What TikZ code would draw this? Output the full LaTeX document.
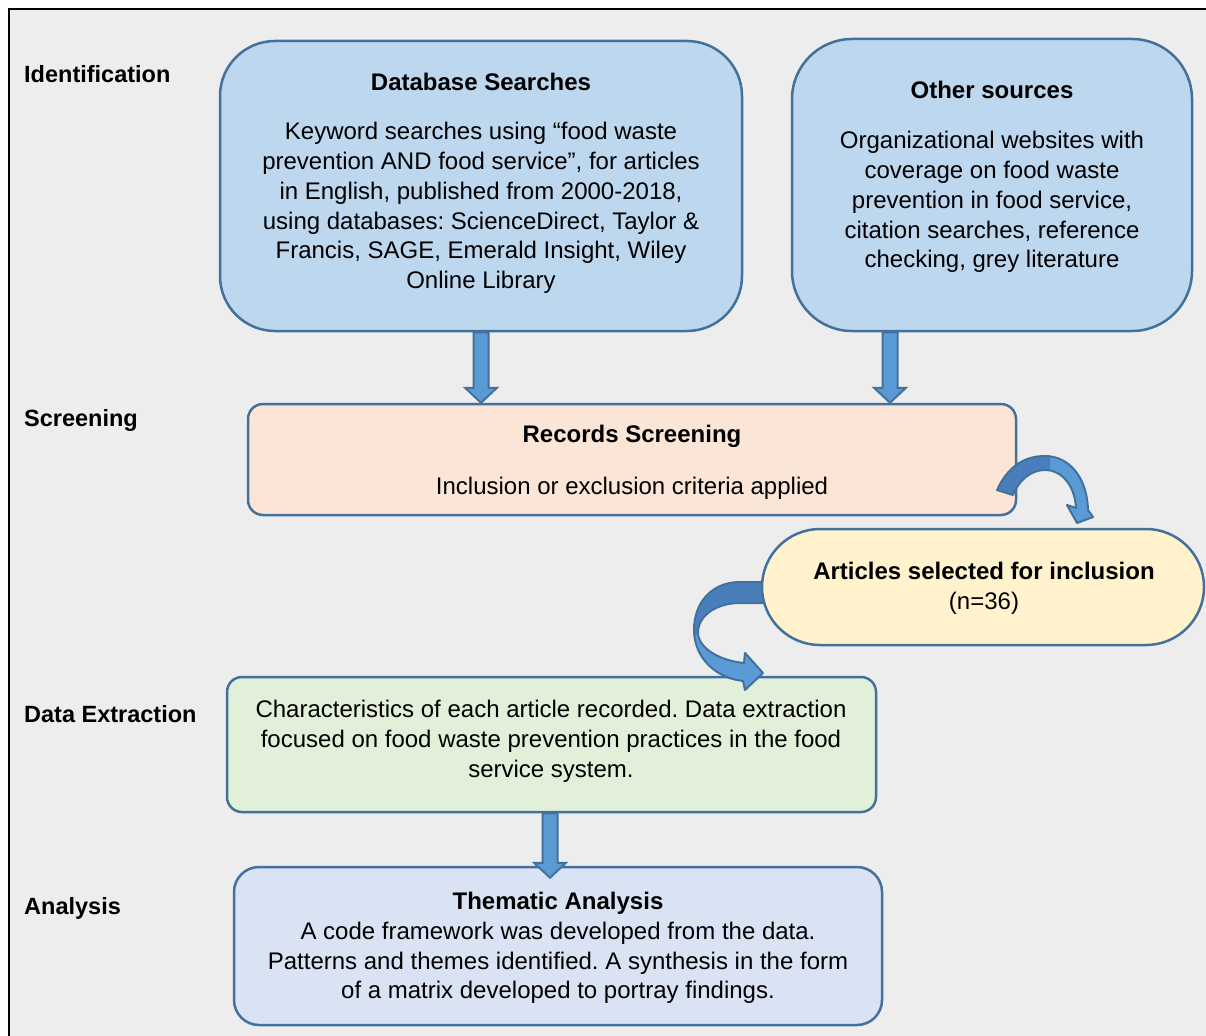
\documentclass[tikz,border=0pt]{standalone}
\usepackage{fontspec}
\setmainfont{Liberation Sans}
\usetikzlibrary{calc}
\frenchspacing
\definecolor{bg}{HTML}{EDEDED}
\definecolor{edge}{HTML}{41719C}
\definecolor{dbfill}{HTML}{BDD7EE}
\definecolor{scrfill}{HTML}{FBE5D6}
\definecolor{artfill}{HTML}{FFF2CC}
\definecolor{extfill}{HTML}{E2F0D9}
\definecolor{thmfill}{HTML}{DAE3F3}
\definecolor{arrlight}{HTML}{5B9BD5}
\definecolor{arrdark}{HTML}{4A7EBB}
\newcommand\blkarrow[2]{\filldraw[blockarrow] let \p1=(#1), \p2=(#2) in
  (\x1-7.5pt,\y1) -- (\x1-7.5pt,\y2+15pt) -- (\x1-16pt,\y2+15pt) -- (\x1,\y2) --
  (\x1+16pt,\y2+15pt) -- (\x1+7.5pt,\y2+15pt) -- (\x1+7.5pt,\y1) -- cycle;}
\begin{document}
\begin{tikzpicture}[x=1pt,y=-1pt,
  every node/.style={font=\fontsize{24}{29.8}\selectfont\frenchspacing, inner sep=0pt},
  box/.style={draw=edge, line width=2.5pt, inner sep=0pt},
  stage/.style={anchor=west, font=\fontsize{23.5}{29.8}\selectfont\bfseries},
  bold/.style={font=\fontsize{24}{29.8}\selectfont\bfseries},
  body/.style={align=center},
  blockarrow/.style={fill=arrlight, draw=edge, line width=2pt, line join=miter},
  curvedge/.style={draw=edge, line width=2pt, line join=round}]
\useasboundingbox (0,0) rectangle (1206,1035);
\clip (0,0) rectangle (1206,1035);
\fill[white] (0,0) rectangle (1206,1035);
\draw[black, line width=2.6pt, fill=bg] (9,9) rectangle (1230,1060);

% boxes
\node[box, fill=dbfill, rounded corners=55pt, minimum width=522pt, minimum height=290pt] (db) at (481,186) {};
\node[box, fill=dbfill, rounded corners=60pt, minimum width=400pt, minimum height=292pt] (os) at (992,185) {};
\node[box, fill=scrfill, rounded corners=15pt, minimum width=768pt, minimum height=111pt] (scr) at (632,459.5) {};
\node[box, fill=extfill, rounded corners=15pt, minimum width=649pt, minimum height=135pt] (ext) at (551.5,744.5) {};
\node[box, fill=thmfill, rounded corners=25pt, minimum width=648pt, minimum height=158pt] (thm) at (558,946) {};

% curved arrow from articles to extraction
\fill[arrlight] (775,582) -- (738,582) .. controls (712,583) and (694,602) .. (694,630) .. controls (694,657) and (715,678) .. (743,681) -- (745,690) -- (763,673) -- (745,653) -- (744,663) .. controls (722,661) and (700,650) .. (698,634) .. controls (697,617) and (715,603) .. (740,603) -- (775,603) -- cycle;
\begin{scope}
\clip (680,570) rectangle (780,634);
\fill[arrdark] (775,582) -- (738,582) .. controls (712,583) and (694,602) .. (694,630) .. controls (694,657) and (715,678) .. (743,681) -- (745,690) -- (763,673) -- (745,653) -- (744,663) .. controls (722,661) and (700,650) .. (698,634) .. controls (697,617) and (715,603) .. (740,603) -- (775,603) -- cycle;
\end{scope}
\draw[curvedge] (775,582) -- (738,582) .. controls (712,583) and (694,602) .. (694,630) .. controls (694,657) and (715,678) .. (743,681) -- (745,690) -- (763,673) -- (745,653) -- (744,663) .. controls (722,661) and (700,650) .. (698,634) .. controls (697,617) and (715,603) .. (740,603) -- (775,603) -- cycle;

\node[box, fill=artfill, rounded corners=58pt, minimum width=442pt, minimum height=116pt] (art) at (983,587) {};

% curved arrow from screening to articles
\fill[arrlight] (997,490) .. controls (1008,466) and (1025,456) .. (1045,456) .. controls (1068,456) and (1087,476) .. (1088,510) -- (1093,517) -- (1077,523) -- (1067,505) -- (1076,508) .. controls (1075,486) and (1062,470) .. (1045,470) .. controls (1031,470) and (1019,480) .. (1013,495) -- cycle;
\begin{scope}
\clip (990,440) rectangle (1050,520);
\fill[arrdark] (997,490) .. controls (1008,466) and (1025,456) .. (1045,456) .. controls (1068,456) and (1087,476) .. (1088,510) -- (1093,517) -- (1077,523) -- (1067,505) -- (1076,508) .. controls (1075,486) and (1062,470) .. (1045,470) .. controls (1031,470) and (1019,480) .. (1013,495) -- cycle;
\end{scope}
\draw[curvedge] (997,490) .. controls (1008,466) and (1025,456) .. (1045,456) .. controls (1068,456) and (1087,476) .. (1088,510) -- (1093,517) -- (1077,523) -- (1067,505) -- (1076,508) .. controls (1075,486) and (1062,470) .. (1045,470) .. controls (1031,470) and (1019,480) .. (1013,495) -- cycle;

% straight block arrows
\blkarrow{db.south}{scr.north}
\blkarrow{[xshift=-102pt]os.south}{scr.north}
\blkarrow{[xshift=-1.5pt]ext.south}{[yshift=-12pt]thm.north}

% stage labels
\node[stage] (l1) at (24,74.5) {Identification};
\node[stage] (l2) at (24,420.5) {Screening};
\node[stage] (l3) at (24,714) {Data Extraction};
\node[stage] (l4) at (24,908.5) {Analysis};

% texts
\node[bold] (dbt) at (481,82) {Database Searches};
\node[body] (dbb) at (481,208) {Keyword searches using “food waste\\prevention AND food service”, for articles\\in English, published from 2000-2018,\\using databases: ScienceDirect, Taylor \&\\Francis, SAGE, Emerald Insight, Wiley\\Online Library};
\node[bold] (ost) at (992,90) {Other sources};
\node[body] (osb) at (992,202) {Organizational websites with\\coverage on food waste\\prevention in food service,\\citation searches, reference\\checking, grey literature};
\node[bold] (scrt) at (632,436.5) {Records Screening};
\node (scrb) at (632,488.5) {Inclusion or exclusion criteria applied};
\node[body] (artt) at (984,588.5) {\textbf{Articles selected for inclusion}\\(n=36)};
\node[body] (extb) at (551,741) {Characteristics of each article recorded. Data extraction\\focused on food waste prevention practices in the food\\service system.};
\node[body] (thmb) at (558,948) {\textbf{Thematic Analysis}\\A code framework was developed from the data.\\Patterns and themes identified. A synthesis in the form\\of a matrix developed to portray findings.};
\end{tikzpicture}
\end{document}
